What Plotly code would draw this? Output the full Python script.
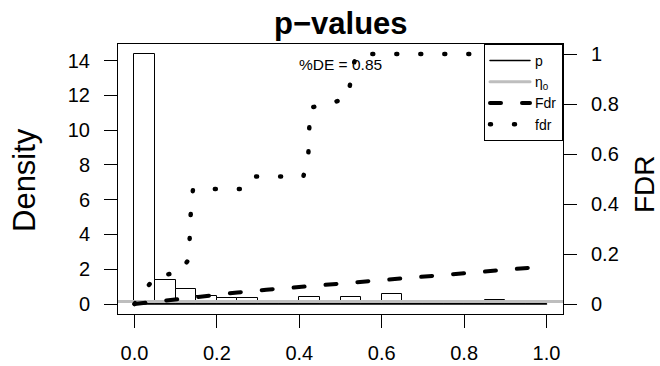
import numpy as np
import plotly.graph_objects as go

# ---------------- data ----------------
bin_width = 0.05
bin_edges = np.round(np.arange(0, 1.0 + 1e-9, bin_width), 2)
density = [14.38, 1.37, 0.85, 0.47, 0.32, 0.32, 0.10, 0.10, 0.41, 0.10,
           0.41, 0.10, 0.55, 0.10, 0.00, 0.10, 0.00, 0.25, 0.00, 0.10]

eta0 = 0.15
pct_de = 0.85

fdr_p = [0, 0.026, 0.052, 0.11, 0.132, 0.136, 0.142, 0.27, 0.29, 0.41, 0.422, 0.426,
         0.47, 0.518, 0.53, 0.54, 0.955]
fdr_v = [0, 0.06, 0.113, 0.125, 0.18, 0.35, 0.46, 0.46, 0.51, 0.51, 0.60, 0.785,
         0.80, 0.825, 0.95, 1.0, 1.0]

Fdr_p = [0, 0.09, 0.17, 0.25, 0.32, 0.40, 0.48, 0.56, 0.64, 0.71, 0.79, 0.87, 0.96]
Fdr_v = [0, 0.018, 0.030, 0.046, 0.057, 0.068, 0.081, 0.092, 0.101, 0.114, 0.124, 0.134, 0.145]

x_ticks = [0.0, 0.2, 0.4, 0.6, 0.8, 1.0]
x_ticklabels = ["0.0", "0.2", "0.4", "0.6", "0.8", "1.0"]
y_ticks = [0, 2, 4, 6, 8, 10, 12, 14]
y2_ticks = [0, 0.2, 0.4, 0.6, 0.8, 1.0]
y2_ticklabels = ["0", "0.2", "0.4", "0.6", "0.8", "1"]

# ---------------- figure ----------------
FONT = "Liberation Sans, Arial, Helvetica, sans-serif"
xr = [-0.04, 1.04]
ymax = max(density)
yr = [-0.04 * ymax, 1.04 * ymax]
y2r = [-0.04, 1.04]

centers = (bin_edges[:-1] + bin_edges[1:]) / 2

fig = go.Figure()
fig.add_trace(go.Bar(x=centers, y=density, width=bin_width,
                     marker=dict(color="white", line=dict(color="black", width=1)),
                     showlegend=False, hoverinfo="skip"))
fig.add_trace(go.Scatter(x=[bin_edges[0], bin_edges[-1]], y=[0, 0], mode="lines",
                         line=dict(color="black", width=1.5), name="p"))
fig.add_trace(go.Scatter(x=xr, y=[eta0, eta0], mode="lines",
                         line=dict(color="#bebebe", width=3), name="η<sub>0</sub>"))
fig.add_trace(go.Scatter(x=Fdr_p, y=Fdr_v, mode="lines", yaxis="y2",
                         line=dict(color="black", width=4, dash="11px,21px"), name="Fdr"))
fig.add_trace(go.Scatter(x=fdr_p, y=fdr_v, mode="lines", yaxis="y2",
                         line=dict(color="black", width=4.5, dash="1px,23px"), name="fdr"))

axis_common = dict(showgrid=False, zeroline=False, ticks="outside", ticklen=13,
                   tickwidth=1, tickcolor="black", linecolor="black", linewidth=1,
                   automargin=False,
                   tickfont=dict(family=FONT, size=20, color="black"))

fig.update_layout(
    width=660, height=366,
    margin=dict(l=118, r=97, t=44, b=52, autoexpand=False),
    paper_bgcolor="white", plot_bgcolor="white",
    font=dict(family=FONT, color="black"),
    bargap=0,
    xaxis=dict(range=xr, tickvals=x_ticks, ticktext=x_ticklabels, showline=True,
               mirror=True, ticklabelstandoff=8, **axis_common),
    yaxis=dict(range=yr, tickvals=y_ticks, showline=True, mirror=True,
               ticklabelstandoff=10, **axis_common),
    yaxis2=dict(range=y2r, tickvals=y2_ticks, ticktext=y2_ticklabels, overlaying="y",
                side="right", showline=False, ticklabelstandoff=10, **axis_common),
    legend=dict(x=1, xanchor="right", y=1, yanchor="top", bgcolor="white",
                bordercolor="black", borderwidth=1, itemwidth=40,
                font=dict(family=FONT, size=14, color="black"),
                tracegroupgap=0),
    showlegend=True,
    annotations=[
        dict(text="<b>p−values</b>", xref="paper", yref="paper", x=0.5, y=(314 - 23) / 270,
             xanchor="center", yanchor="middle", showarrow=False,
             font=dict(family=FONT, size=31, color="black")),
        dict(text="Density", xref="paper", yref="paper", x=(24 - 118) / 445, y=(314 - 180) / 270,
             xanchor="center", yanchor="middle", textangle=-90, showarrow=False,
             font=dict(family=FONT, size=31, color="black")),
        dict(text="FDR", xref="paper", yref="paper", x=(644 - 118) / 445, y=(314 - 184) / 270,
             xanchor="center", yanchor="middle", textangle=-90, showarrow=False,
             font=dict(family=FONT, size=28, color="black")),
        dict(text="%DE = " + f"{pct_de:.2f}",
             xref="x", yref="y2", x=0.5, y=0.96,
             xanchor="center", yanchor="middle", showarrow=False,
             font=dict(family=FONT, size=15.5, color="black")),
    ],
)

post = (
    "document.body.style.margin='0';"
    "document.querySelectorAll('path.js-line').forEach(function(p){"
    "p.style.strokeLinecap='round';});"
)
fig.write_html("out.html", config={"displayModeBar": False}, post_script=post)
